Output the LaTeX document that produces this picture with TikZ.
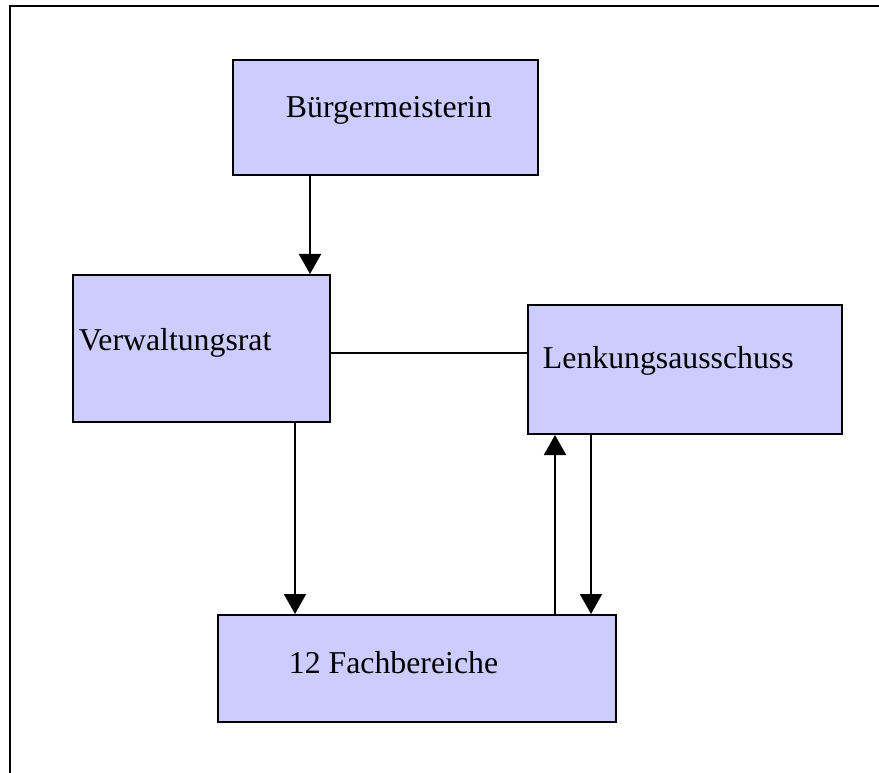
\documentclass[tikz,border=0pt]{standalone}
\usepackage{fontspec}
\setmainfont{Liberation Serif}
\usepackage{tikz}
\usetikzlibrary{arrows.meta, calc, positioning}

\definecolor{boxblue}{HTML}{CCCCFF}
\tikzset{
  orgbox/.style={draw, fill=boxblue, line width=1.4pt, inner sep=0pt},
  orgtext/.style={anchor=base west, inner sep=0pt, font=\fontsize{22.6}{27}\selectfont},
}

\begin{document}
\begin{tikzpicture}[x=0.025cm, y=-0.025cm, >={Triangle[length=0.5cm, width=0.55cm]}, line width=1.4pt]
  \useasboundingbox (0,0) rectangle (879,773);
  \draw (10,773) -- (10,6) -- (879,6);
  % boxes
  \node [orgbox, minimum width=7.625cm, minimum height=2.875cm] (bm) at (385.5,117.5) {};
  \node [orgbox, minimum width=6.425cm, minimum height=3.675cm] (vr) at (201.5,348.5) {};
  \node [orgbox, minimum width=7.85cm, minimum height=3.225cm] (lk) at (685,369.5) {};
  \node [orgbox, minimum width=9.95cm, minimum height=2.675cm] (fb) at (417,668.5) {};
  % texts
  \node [orgtext] (bmtext) at (285,118) {Bürgermeisterin};
  \node [orgtext] (vrtext) at (78,350) {Verwaltungsrat};
  \node [orgtext] (lktext) at (542,368) {Lenkungsausschuss};
  \node [orgtext] (fbtext) at (288,673) {12 Fachbereiche};
  % connectors
  \draw [->] (bm.south -| 310,0) -- (vr.north -| 310,0);
  \draw (vr.east |- 0,353) -- (lk.west |- 0,353);
  \draw [->] (vr.south -| 295,0) -- (fb.north -| 295,0);
  \draw [->] (fb.north -| 555,0) -- (lk.south -| 555,0);
  \draw [->] (lk.south -| 591,0) -- (fb.north -| 591,0);
\end{tikzpicture}
\end{document}
